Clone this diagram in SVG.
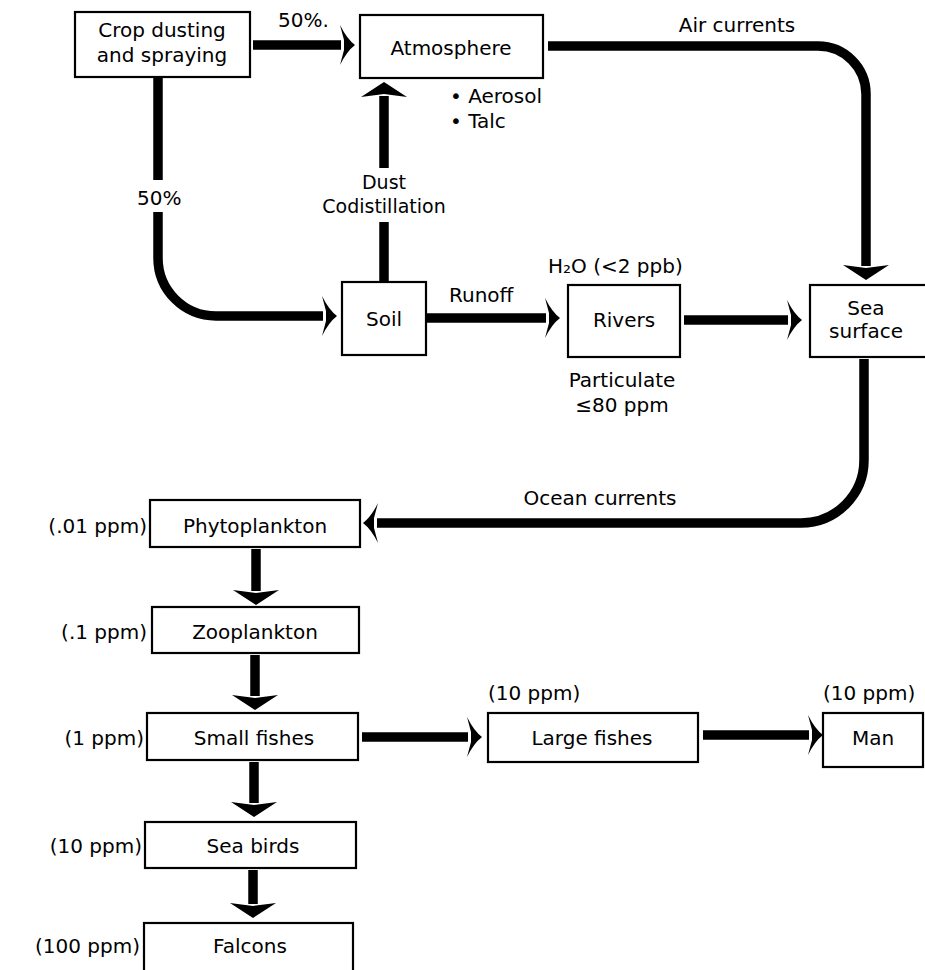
<svg xmlns="http://www.w3.org/2000/svg" width="925" height="970" viewBox="0 0 925 970">
<style>
  .box { fill: #fff; stroke: #000; stroke-width: 2.2; }
  .t { font-family: "DejaVu Sans", "Liberation Sans", sans-serif; font-size: 20px; fill: #000; }
  .s { font-size: 19px; }
  .m { text-anchor: middle; }
  .e { text-anchor: end; }
  .ln { fill: none; stroke: #000; stroke-width: 9.5; }
  .h { marker-end: url(#barb); }
  .v { marker-end: url(#tri); }
</style>
<defs>
  <marker id="barb" markerUnits="userSpaceOnUse" viewBox="-4 -22 20 44" markerWidth="20" markerHeight="44" refX="0" refY="0" orient="auto" overflow="visible">
    <path d="M14,0 Q6,-6 -1,-20 L3,-5 L3,5 L-1,20 Q6,6 14,0 Z" fill="#000"/>
  </marker>
  <marker id="tri" markerUnits="userSpaceOnUse" viewBox="-4 -25 20 50" markerWidth="20" markerHeight="50" refX="0" refY="0" orient="auto" overflow="visible">
    <path d="M14,0 L-1,-23 L2,0 L-1,23 Z" fill="#000"/>
  </marker>
</defs>

<g id="connectors">
  <path class="ln h" d="M253,45 H341"/>
  <path class="ln" d="M158,78 V180"/>
  <path class="ln h" d="M158,212 V258 A58,58 0 0 0 216,316 H323"/>
  <path class="ln" d="M384,282 V222"/>
  <path class="ln v" d="M384,168 V96"/>
  <path class="ln v" d="M548,46 H818 A48,48 0 0 1 866,94 V266"/>
  <path class="ln h" d="M426,318 H546"/>
  <path class="ln h" d="M684,320 H788"/>
  <path class="ln h" d="M864,359 V460 A63,63 0 0 1 801,523 H377"/>
  <path class="ln v" d="M256,549 V591"/>
  <path class="ln v" d="M255,655 V696"/>
  <path class="ln v" d="M254,762 V803"/>
  <path class="ln v" d="M253,870 V904"/>
  <path class="ln h" d="M362,737 H468"/>
  <path class="ln h" d="M703,735 H809"/>
  <text class="t" x="278" y="27">50%.</text>
  <text class="t" x="137" y="205">50%</text>
  <text class="t s m" x="384" y="189">Dust</text>
  <text class="t s m" x="384" y="213">Codistillation</text>
  <text class="t m" x="737" y="32">Air currents</text>
  <text class="t" x="449" y="302">Runoff</text>
  <text class="t m" x="600" y="505">Ocean currents</text>
</g>

<g id="crop">
  <rect class="box" x="75" y="12" width="175" height="65"/>
  <text class="t m" x="162" y="37">Crop dusting</text>
  <text class="t m" x="162" y="62">and spraying</text>
</g>

<g id="atmosphere">
  <rect class="box" x="360" y="15" width="183" height="63"/>
  <text class="t m" x="451" y="55">Atmosphere</text>
  <text class="t" x="450" y="103">• Aerosol</text>
  <text class="t" x="450" y="128">• Talc</text>
</g>

<g id="soil">
  <rect class="box" x="342" y="282" width="84" height="73"/>
  <text class="t m" x="384" y="326">Soil</text>
</g>

<g id="rivers">
  <text class="t" x="548" y="273">H₂O (&lt;2 ppb)</text>
  <rect class="box" x="568" y="285" width="112" height="72"/>
  <text class="t m" x="624" y="327">Rivers</text>
  <text class="t m" x="622" y="387">Particulate</text>
  <text class="t m" x="622" y="412">≤80 ppm</text>
</g>

<g id="sea-surface">
  <rect class="box" x="810" y="285" width="130" height="72"/>
  <text class="t m" x="866" y="315">Sea</text>
  <text class="t m" x="866" y="338">surface</text>
</g>

<g id="phytoplankton">
  <text class="t e" x="147" y="533">(.01 ppm)</text>
  <rect class="box" x="150" y="500" width="210" height="47"/>
  <text class="t m" x="255" y="533">Phytoplankton</text>
</g>

<g id="zooplankton">
  <text class="t e" x="147" y="639">(.1 ppm)</text>
  <rect class="box" x="152" y="607" width="207" height="46"/>
  <text class="t m" x="255" y="639">Zooplankton</text>
</g>

<g id="small-fishes">
  <text class="t e" x="144" y="745">(1 ppm)</text>
  <rect class="box" x="147" y="713" width="211" height="47"/>
  <text class="t m" x="254" y="745">Small fishes</text>
</g>

<g id="sea-birds">
  <text class="t e" x="142" y="853">(10 ppm)</text>
  <rect class="box" x="145" y="822" width="211" height="46"/>
  <text class="t m" x="253" y="853">Sea birds</text>
</g>

<g id="falcons">
  <text class="t e" x="140" y="953">(100 ppm)</text>
  <rect class="box" x="144" y="923" width="209" height="60"/>
  <text class="t m" x="250" y="953">Falcons</text>
</g>

<g id="large-fishes">
  <text class="t" x="488" y="700">(10 ppm)</text>
  <rect class="box" x="488" y="713" width="210" height="49"/>
  <text class="t m" x="592" y="745">Large fishes</text>
</g>

<g id="man">
  <text class="t" x="823" y="700">(10 ppm)</text>
  <rect class="box" x="823" y="713" width="100" height="54"/>
  <text class="t m" x="873" y="745">Man</text>
</g>
</svg>
